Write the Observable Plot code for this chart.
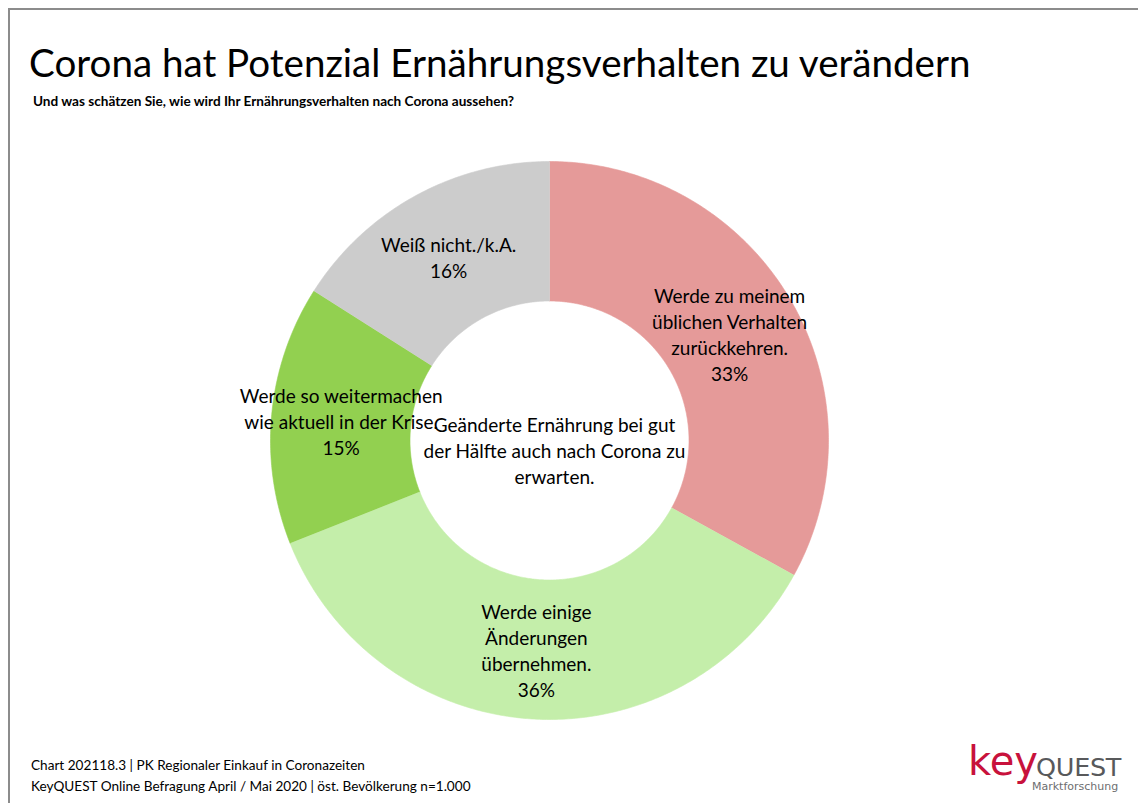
<!DOCTYPE html>
<html>
<head>
<meta charset="utf-8">
<script src="https://cdn.jsdelivr.net/npm/d3@7"></script>
<script src="https://cdn.jsdelivr.net/npm/@observablehq/plot@0.6"></script>
<style>
  html, body { margin: 0; padding: 0; background: #fff; }
  #page { position: relative; width: 1138px; height: 803px; overflow: hidden; font-family: Lato, "Open Sans", sans-serif; color: #000; }
  .abs { position: absolute; white-space: nowrap; }
  #frameTop { position: absolute; left: 9px; top: 8px; width: 1129px; height: 0; border-top: 2px solid #8c8c8c; }
  #frameLeft { position: absolute; left: 8px; top: 8px; width: 0; height: 795px; border-left: 2px solid #8c8c8c; }
  #title { left: 29px; top: 37px; font-size: 38.6px; line-height: 50px; }
  #subtitle { left: 33px; top: 93px; font-size: 13.6px; font-weight: bold; line-height: 17px; }
  #footer { left: 31px; top: 755px; font-size: 13.6px; line-height: 21px; }
  #chart { position: absolute; left: 0; top: 130px; }
  #logo-key { left: 968px; top: 738px; font-size: 40px; color: #c8123c; font-family: "DejaVu Sans", sans-serif; letter-spacing: 0px; line-height: 46px; }
  #logo-quest { left: 1036px; top: 752px; font-size: 25.5px; color: #58595b; font-family: "DejaVu Sans", sans-serif; line-height: 30px; letter-spacing: -0.3px; }
  #logo-sub { left: 1032px; top: 780px; font-size: 11px; color: #6d6e70; font-family: "DejaVu Sans", sans-serif; line-height: 14px; }
</style>
</head>
<body>
<div id="page">
  <div id="frameTop"></div>
  <div id="frameLeft"></div>
  <div id="title" class="abs">Corona hat Potenzial Ernährungsverhalten zu verändern</div>
  <div id="subtitle" class="abs">Und was schätzen Sie, wie wird Ihr Ernährungsverhalten nach Corona aussehen?</div>
  <div id="chart"></div>
  <div id="footer" class="abs">Chart 202118.3 | PK Regionaler Einkauf in Coronazeiten<br>KeyQUEST Online Befragung April / Mai 2020 | öst. Bevölkerung n=1.000</div>
  <div id="logo-key" class="abs">key</div>
  <div id="logo-quest" class="abs">QUEST</div>
  <div id="logo-sub" class="abs">Marktforschung</div>
</div>
<script>
// ---- Data ----
const categories = [
  "Werde zu meinem üblichen Verhalten zurückkehren.",
  "Werde einige Änderungen übernehmen.",
  "Werde so weitermachen wie aktuell in der Krise.",
  "Weiß nicht./k.A."
];
const values = [33, 36, 15, 16];
const labelTexts = [
  "Werde zu meinem\nüblichen Verhalten\nzurückkehren.",
  "Werde einige\nÄnderungen\nübernehmen.",
  "Werde so weitermachen\nwie aktuell in der Krise.",
  "Weiß nicht./k.A."
];
const centerText = "Geänderte Ernährung bei gut\nder Hälfte auch nach Corona zu\nerwarten.";
const colors = ["#e59a99", "#c4eeaa", "#92d050", "#cccccc"];

// ---- Geometry derived from data ----
const innerRatio = 0.5;
const total = d3.sum(values);
let cum = 0;
const slices = categories.map((c, i) => {
  const a0 = cum / total * 2 * Math.PI;
  cum += values[i];
  const a1 = cum / total * 2 * Math.PI;
  return {category: c, value: values[i], a0, a1, text: labelTexts[i]};
});
const ring = [];
for (const s of slices) {
  const n = Math.max(4, Math.ceil((s.a1 - s.a0) / (Math.PI / 360)));
  for (let k = 0; k <= n; k++) {
    const a = s.a0 + (s.a1 - s.a0) * k / n;
    ring.push({category: s.category, x: Math.sin(a), y: Math.cos(a)});
  }
  for (let k = n; k >= 0; k--) {
    const a = s.a0 + (s.a1 - s.a0) * k / n;
    ring.push({category: s.category, x: innerRatio * Math.sin(a), y: innerRatio * Math.cos(a)});
  }
}
const labelR = (1 + innerRatio) / 2;
const labels = slices.map(s => {
  const m = (s.a0 + s.a1) / 2;
  return {x: labelR * Math.sin(m), y: labelR * Math.cos(m), text: s.text + "\n" + Math.round(s.value / total * 100) + "%"};
});

const cx = 549, cy = 310, R = 279;
const chart = Plot.plot({
  width: 1138,
  height: 600,
  margin: 0,
  x: {domain: [-1, 1], range: [cx - R, cx + R], axis: null},
  y: {domain: [-1, 1], range: [cy + R, cy - R], axis: null},
  color: {domain: categories, range: colors},
  style: {fontFamily: "Lato, 'Open Sans', sans-serif", background: "transparent", overflow: "visible"},
  marks: [
    Plot.line(ring, {x: "x", y: "y", z: "category", fill: "category", stroke: "category", strokeWidth: 0.6, curve: "linear"}),
    Plot.text(labels, {x: "x", y: "y", text: "text", fontSize: 19, lineHeight: 1.37, fill: "#000"}),
    Plot.text([centerText], {x: () => 0, y: () => 0, text: d => d, dx: 5, dy: 9, fontSize: 19, lineHeight: 1.37, fill: "#000"})
  ]
});
document.getElementById("chart").appendChild(chart);
</script>
</body>
</html>
